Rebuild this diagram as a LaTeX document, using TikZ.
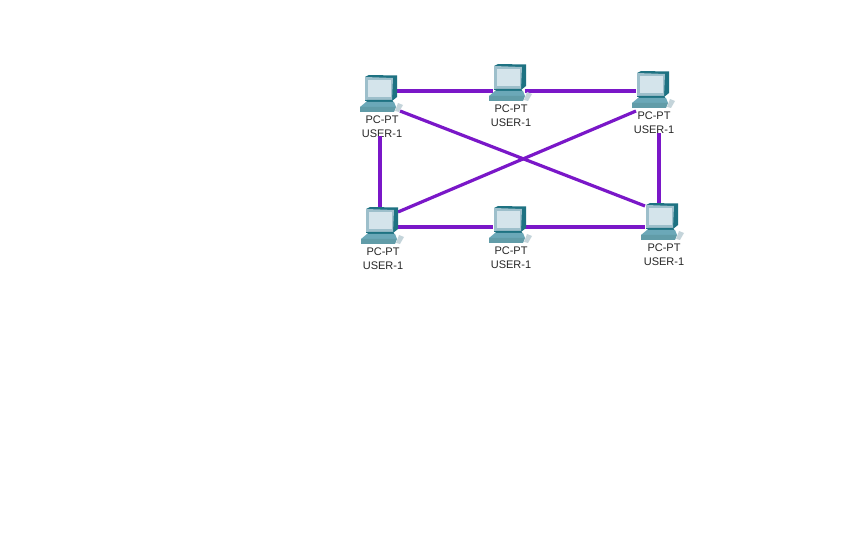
\documentclass[tikz,border=0pt]{standalone}
\usepackage{fontspec}
\setmainfont{Liberation Sans}
\usetikzlibrary{positioning}

\definecolor{linkviolet}{HTML}{7A17C8}
\definecolor{pcdark}{HTML}{1E7282}
\definecolor{pcframe}{HTML}{9DBFCB}
\definecolor{pcscreen}{HTML}{D4E4EB}
\definecolor{pckeys}{HTML}{6BA8B8}
\definecolor{pcmouse}{HTML}{C4D4DA}

\tikzset{
  pcbox/.style={minimum width=31pt, minimum height=38pt, inner sep=0pt},
  pclabel/.style={font=\fontsize{11}{14}\selectfont, align=center, inner sep=0pt, text=black!85},
  link/.style={draw=linkviolet, line width=3.2pt},
  pcuser/.pic={
    % monitor back and side
    \fill[pcdark] (-15,-17) -- (-11,-19) -- (17,-18.5) -- (17,3) -- (12,7) -- (-15,7) -- cycle;
    % monitor front and screen
    \fill[pcframe] (-15,-17) -- (13,-16) -- (12,6) -- (-15,6) -- cycle;
    \fill[pcscreen] (-12,-14) -- (11,-14) -- (11,3) -- (-12,3) -- cycle;
    % stand
    \fill[pcdark] (-13,6) -- (12,6) -- (14,9) -- (-14,9) -- cycle;
    % keyboard
    \fill[pckeys] (-14,8) -- (14,8) -- (16,13) -- (-20,13) -- cycle;
    \fill[pcdark!70] (-20,13) -- (16,13) -- (14,18) -- (-20,18) -- cycle;
    % mouse
    \fill[pcmouse] (15,17) -- (18,9) -- (23,11) -- (19,18) -- cycle;
  }
}

\begin{document}
\begin{tikzpicture}[x=1pt, y=-1pt]

  \useasboundingbox (0,0) rectangle (843,537);

  % The six computers with their labels
  \foreach \name/\px/\py/\lx in {A/380/94/2, B/509/83/2, C/652/90/2, D/381/226/2, E/509/225/2, F/661/222/3} {
    \node[pcbox] (pc\name) at (\px,\py) {};
    \node[pclabel, below=2pt of pc\name, xshift=\lx pt] (label\name) {PC-PT\\USER-1};
  }

  % Top and bottom rows
  \draw[link] ([yshift=3pt]pcA.east) -- ([yshift=-8pt]pcB.west);
  \draw[link] ([yshift=-8pt]pcB.east) -- ([yshift=-1pt]pcC.west);
  \draw[link] ([yshift=-1pt]pcD.east) -- ([yshift=-2pt]pcE.west);
  \draw[link] ([yshift=-2pt]pcE.east) -- ([yshift=-5pt]pcF.west);

  % Left and right sides
  \draw[link] ([shift={(0,42)}]pcA.center) -- ([shift={(-1,-17)}]pcD.center);
  \draw[link] ([shift={(7,43)}]pcC.center) -- ([shift={(-2,-18)}]pcF.center);

  % Crossing links
  \draw[link] ([shift={(20,17)}]pcA.center) -- ([shift={(-16,-16)}]pcF.center);
  \draw[link] ([shift={(-16,21)}]pcC.center) -- ([shift={(17,-14)}]pcD.center);

  % Icons go on top of the link ends
  \foreach \name in {A,B,C,D,E,F} {
    \pic at (pc\name) {pcuser};
  }

\end{tikzpicture}
\end{document}
